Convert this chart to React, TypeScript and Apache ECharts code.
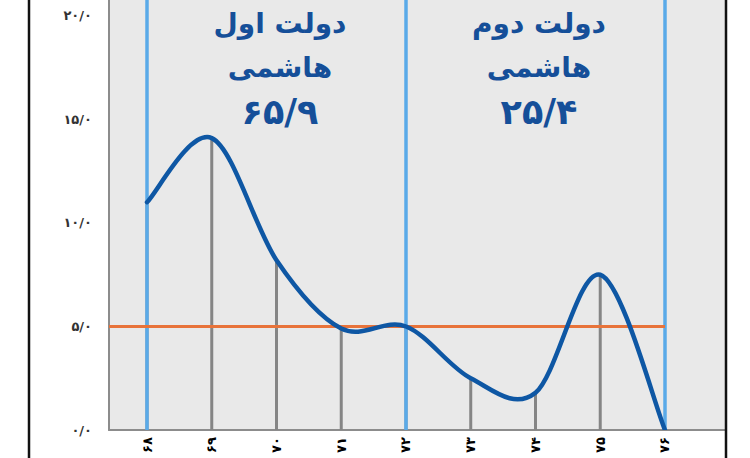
import React, { useEffect, useRef } from "react";
import * as echarts from "echarts";

const years = [68, 69, 70, 71, 72, 73, 74, 75, 76];
const growth = [11.0, 14.1, 8.2, 4.9, 5.0, 2.5, 1.8, 7.5, 0];
const periodBounds = [68, 72, 76];
const threshold = 5;
const yTicks = [0, 5, 10, 15, 20];
const periodTitles = ["دولت اول", "دولت دوم"];
const periodSubtitle = "هاشمی";
const periodValues = ["۶۵/۹", "۲۵/۴"];
const periodCenters = [280, 539];

const X_MIN = 67.413;
const X_MAX = 76.927;
const Y_MAX = 20.77;

const faDigits = "۰۱۲۳۴۵۶۷۸۹";
const toFa = (s: string) => s.replace(/[0-9]/g, (d) => faDigits[+d]);

function renderCurve(params: any, api: any) {
  if (params.dataIndex !== 0) return null;
  const pts = years.map((y, i) => api.coord([y, growth[i]]));
  const n = pts.length;
  let d = `M${pts[0][0]},${pts[0][1]}`;
  for (let i = 0; i < n - 1; i++) {
    const p0 = pts[Math.max(0, i - 1)];
    const p1 = pts[i];
    const p2 = pts[i + 1];
    const p3 = pts[Math.min(n - 1, i + 2)];
    const c1x = p1[0] + (p2[0] - p0[0]) / 6;
    const c1y = p1[1] + (p2[1] - p0[1]) / 6;
    const c2x = p2[0] - (p3[0] - p1[0]) / 6;
    const c2y = p2[1] - (p3[1] - p1[1]) / 6;
    d += ` C${c1x},${c1y} ${c2x},${c2y} ${p2[0]},${p2[1]}`;
  }
  return {
    type: "path",
    shape: { pathData: d },
    style: { fill: "none", stroke: "#0e57a4", lineWidth: 4.5, lineCap: "round" },
  };
}

export default function App() {
  const ref = useRef<HTMLDivElement>(null);
  useEffect(() => {
    if (!ref.current) return;
    const chart = echarts.init(ref.current, null, { renderer: "svg" });
    const textFont = "bold 28px 'DejaVu Sans'";
    const numFont = "bold 35px 'DejaVu Sans'";
    const labels: any[] = [];
    periodCenters.forEach((cx, k) => {
      [
        { t: periodTitles[k], y: 23, f: textFont },
        { t: periodSubtitle, y: 67, f: textFont },
        { t: periodValues[k], y: 112, f: numFont },
      ].forEach((l) =>
        labels.push({
          type: "text",
          x: cx,
          y: l.y,
          z: 10,
          style: {
            text: l.t,
            fill: "#154f99",
            font: l.f,
            align: "center",
            verticalAlign: "middle",
          },
        })
      );
    });
    const option: any = {
      animation: false,
      backgroundColor: "#ffffff",
      grid: {
        left: 109,
        right: 25,
        top: 0,
        bottom: 28,
        show: true,
        backgroundColor: "#e9e9e9",
        borderWidth: 0,
      },
      xAxis: {
        type: "value",
        min: X_MIN,
        max: X_MAX,
        axisLine: { show: true, lineStyle: { color: "#8c8c8c", width: 2 } },
        axisTick: { show: false },
        splitLine: { show: false },
        axisLabel: {
          customValues: years,
          rotate: 90,
          margin: 7,
          color: "#000",
          fontSize: 13,
          fontWeight: "bold",
          fontFamily: "DejaVu Sans",
          formatter: (v: number) => toFa(String(Math.round(v))),
        },
      },
      yAxis: {
        type: "value",
        min: 0,
        max: Y_MAX,
        interval: 5,
        axisLine: { show: true, lineStyle: { color: "#8c8c8c", width: 2 } },
        axisTick: { show: false },
        splitLine: { show: false },
        axisLabel: {
          customValues: yTicks,
          margin: 17,
          color: "#333",
          fontSize: 13,
          fontWeight: "bold",
          fontFamily: "DejaVu Sans",
          formatter: (v: number) =>
            Math.abs(v % 5) > 1e-6 ? "" : toFa(v.toFixed(1).replace(".", "/")),
        },
      },
      series: [
        {
          type: "bar",
          data: years.map((y, i) => [y, growth[i]]),
          barWidth: 3,
          itemStyle: { color: "#858585" },
          z: 1,
        },
        {
          type: "line",
          data: [],
          z: 3,
          markLine: {
            silent: true,
            symbol: "none",
            label: { show: false },
            lineStyle: { color: "#5aaae8", width: 3.5, type: "solid" },
            data: periodBounds.map((b) => ({ xAxis: b })),
          },
        },
        {
          type: "line",
          data: [],
          z: 4,
          markLine: {
            silent: true,
            symbol: "none",
            label: { show: false },
            lineStyle: { color: "#e8733a", width: 3, type: "solid" },
            data: [
              [
                { coord: [X_MIN, threshold] },
                { coord: [periodBounds[periodBounds.length - 1], threshold] },
              ],
            ],
          },
        },
        {
          type: "custom",
          data: years.map((y, i) => [y, growth[i]]),
          renderItem: renderCurve,
          clip: true,
          z: 5,
        },
      ],
      graphic: [
        {
          type: "line",
          shape: { x1: 29, y1: 0, x2: 29, y2: 458 },
          style: { stroke: "#111", lineWidth: 2.5 },
          z: 10,
        },
        {
          type: "line",
          shape: { x1: 726, y1: 0, x2: 726, y2: 458 },
          style: { stroke: "#111", lineWidth: 2.5 },
          z: 10,
        },
        ...labels,
      ],
    };
    chart.setOption(option);
    return () => chart.dispose();
  }, []);
  return (
    <div
      ref={ref}
      style={{ position: "fixed", left: 0, top: 0, width: 750, height: 458 }}
    />
  );
}
